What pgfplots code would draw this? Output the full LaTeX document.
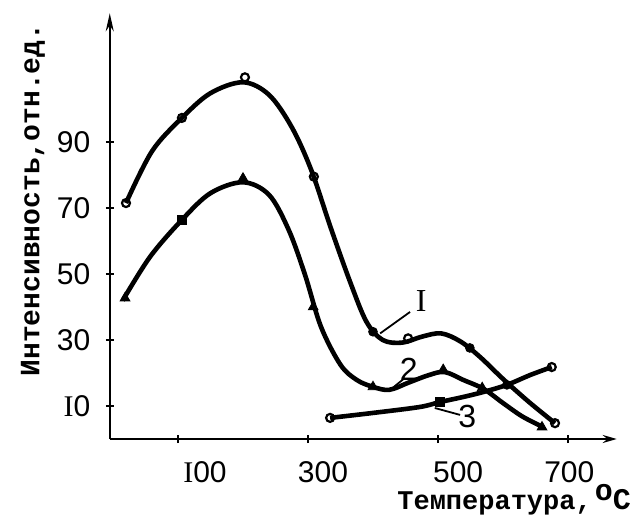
\documentclass[border=0pt]{standalone}
\usepackage{pgfplots}
\pgfplotsset{compat=1.18}
\usepackage{fontspec}
\setmainfont{Liberation Sans}
\newfontfamily\lmono{Liberation Mono}
\newfontfamily\lserif{Liberation Serif}
\usetikzlibrary{arrows.meta}
\begin{document}
\begin{tikzpicture}
\useasboundingbox (-54.875pt,-37.5pt) rectangle (260.625pt,219.5pt);
\begin{axis}[
  at={(0pt,0pt)}, anchor=south west,
  x=0.325pt, y=1.65pt,
  xmin=-5, xmax=775, ymin=0, ymax=129,
  axis lines=left,
  axis line style={line width=1pt},
  x axis line style={-{Stealth[length=7pt,width=4pt]}},
  y axis line style={-{Stealth[length=9pt,width=4pt]}},
  clip=false,
  tick align=center, major tick length=4pt,
  tick style={line width=0.8pt, black},
  xtick={100,300,500,700}, xticklabels={},
  extra x ticks={141.5,323,531,702},
  extra x tick labels={{\lserif I}00,300,500,700},
  extra x tick style={major tick length=0pt, xticklabel style={anchor=center, inner sep=1pt, yshift=-16.5pt}},
  ytick={10,30,50,70,90},
  yticklabels={{\lserif I}0,30,50,70,90},
  yticklabel style={anchor=east, inner sep=0pt, xshift=-7.5pt},
  tick label style={font=\fontsize{15}{16}\selectfont},
]
% curve I
\addplot[line width=2.3pt, smooth, tension=0.55, black] coordinates {(20,71.5) (60,87.2) (106,97.3) (150,104.8) (200,108.1) (240,104.3) (275,94.5) (305,81.5) (335,64) (365,47.5) (390,35.5) (415,30) (445,29.2) (475,31) (505,32) (535,29.5) (565,24.8) (600,18.2) (640,11.2) (680,4.8)};
% curve 2
\addplot[line width=2.3pt, smooth, tension=0.55, black] coordinates {(15,42) (57,55.2) (106,66.4) (150,74.5) (200,77.8) (240,74) (270,63.5) (295,50) (320,34) (350,22.5) (375,17.9) (400,15.8) (425,14.9) (455,17.1) (485,19.3) (510,20.3) (540,17.8) (570,15.2) (600,10.9) (630,6.8) (662,3.6)};
% curve 3
\addplot[line width=2.3pt, smooth, tension=0.5, black] coordinates {(334,6.4) (400,7.9) (472,9.7) (503,11.2) (538,12.7) (569,14.2) (606,16.4) (642,19.4) (675,21.8)};
% markers
\addplot[only marks, mark=o, mark size=2pt, mark options={line width=1.1pt, fill=white, draw=black}] coordinates {(20,71.5) (106,97.3) (203,109.6) (309,79.5) (454,30.5) (680,4.8) (334,6.4) (675,21.8)};
\addplot[only marks, mark=*, mark size=2.2pt, black] coordinates {(400,32.5) (549,27.6) (606,16.4)};
\addplot[only marks, mark=triangle*, mark size=2.8pt, black] coordinates {(18.5,42.7) (200,79) (308,40) (400,15.8) (508,21) (568,15.5) (660,3.6)};
\addplot[only marks, mark=square*, mark size=2.4pt, black] coordinates {(106,66.4) (503,11.2)};
% curve labels
\node[font=\lserif\fontsize{16}{18}\selectfont] at (axis cs:474,41.8) {I};
\draw[line width=0.9pt] (axis cs:411,32) -- (axis cs:457,38.5);
\node[font=\fontsize{16}{18}\selectfont] at (axis cs:455,21.2) {2};
\draw[line width=0.9pt] (axis cs:426,14.8) -- (axis cs:449,18.5);
\node[font=\fontsize{16}{18}\selectfont] at (axis cs:545,6.7) {3};
\draw[line width=0.9pt] (axis cs:495,9.4) -- (axis cs:534,7.3);
\end{axis}
\node[rotate=90, font=\lmono\bfseries\fontsize{14}{16}\selectfont] at (-38.4pt,119.5pt) {Интенсивность,отн.ед.};
\node[anchor=base west, inner sep=0pt, font=\lmono\bfseries\fontsize{13.5}{16}\selectfont] at (143.6pt,-35pt) {Температура,\hspace{1.5pt}{\fontsize{15}{16}\selectfont\raisebox{4.5pt}{o}C}};
\end{tikzpicture}
\end{document}
